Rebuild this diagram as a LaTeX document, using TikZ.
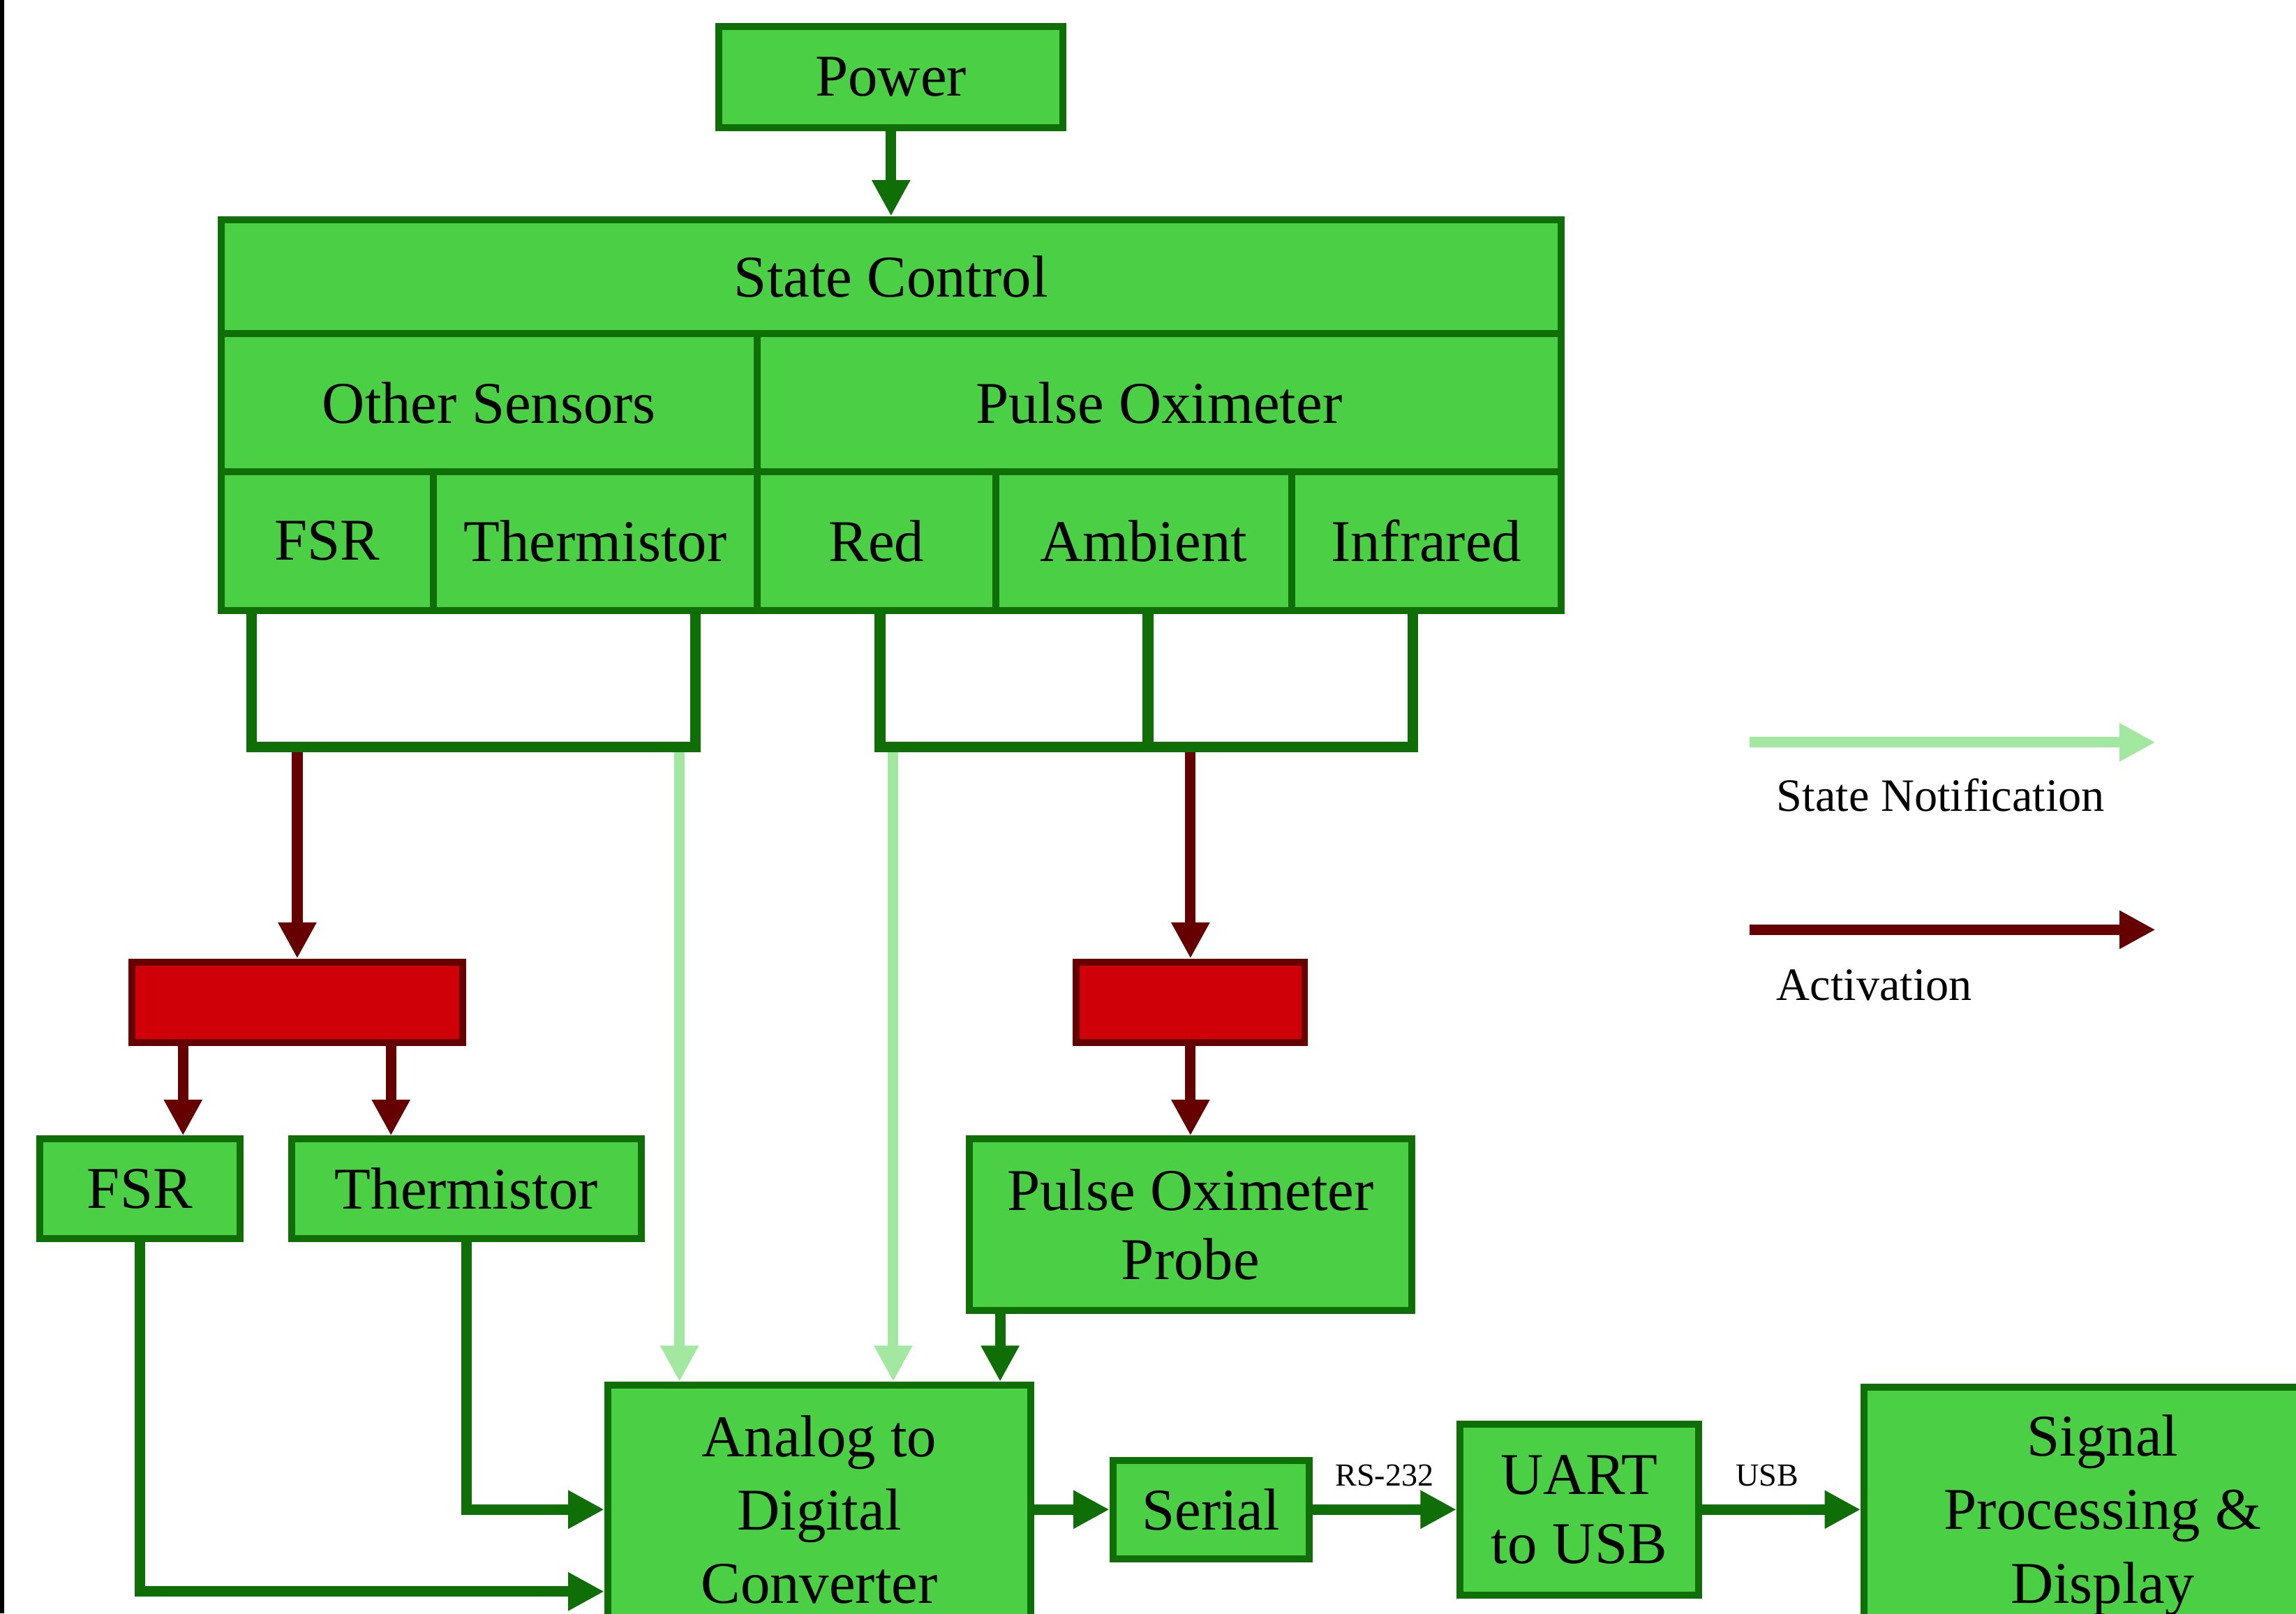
\documentclass[tikz,border=0pt]{standalone}
\usepackage{fontspec}
\setmainfont{Liberation Serif}
\usetikzlibrary{arrows.meta}

\definecolor{boxfill}{RGB}{74,207,69}
\definecolor{boxline}{RGB}{15,110,5}
\definecolor{notegreen}{RGB}{163,232,160}
\definecolor{actline}{RGB}{102,0,0}
\definecolor{gatefill}{RGB}{208,0,8}

\tikzset{
    block/.style={rectangle, draw=boxline, fill=boxfill, line width=2.7pt,
        inner sep=0pt, align=center, font=\fontsize{23}{27}\selectfont},
    gate/.style={rectangle, draw=actline, fill=gatefill, line width=2.7pt},
    link/.style={draw=boxline, line width=4.1pt, -{Triangle[width=14pt,length=14pt]}},
    bus/.style={draw=boxline, line width=4.1pt, line join=miter},
    notify/.style={draw=notegreen, line width=4.1pt, -{Triangle[width=14pt,length=14pt]}},
    activate/.style={draw=actline, line width=4.1pt, -{Triangle[width=14pt,length=14pt]}},
    legend/.style={inner sep=0pt, anchor=west, font=\fontsize{18}{21}\selectfont},
    portlabel/.style={midway, above=7pt, inner sep=0pt, font=\fontsize{12.5}{14}\selectfont}
}

\begin{document}
\begin{tikzpicture}[x=0.02cm, y=-0.02cm]

    \useasboundingbox (0,0) rectangle (1568,1102);
    \clip (0,0) rectangle (1568,1102);
    \fill[black] (0,0) rectangle (3,1102);

    % state control table
    \node[block, minimum width=4.70cm, minimum height=1.38cm] (power) at (608.5,52.5) {Power};
    \node[block, minimum width=18.30cm, minimum height=1.56cm] (sc) at (608.5,189) {State Control};
    \node[block, minimum width=7.32cm, minimum height=1.88cm] (os) at (334,275) {Other Sensors};
    \node[block, minimum width=10.98cm, minimum height=1.88cm] (po) at (791.5,275) {Pulse Oximeter};
    \node[block, minimum width=2.90cm, minimum height=1.90cm] (fsr) at (223.5,369.5) {FSR};
    \node[block, minimum width=4.42cm, minimum height=1.90cm] (therm) at (406.5,369.5) {Thermistor};
    \node[block, minimum width=3.26cm, minimum height=1.90cm] (red) at (598.5,369.5) {Red};
    \node[block, minimum width=4.04cm, minimum height=1.90cm] (amb) at (781,369.5) {Ambient};
    \node[block, minimum width=3.68cm, minimum height=1.90cm] (ir) at (974,369.5) {Infrared};

    % switches
    \node[gate, minimum width=4.52cm, minimum height=1.10cm] (lgate) at (203,684.5) {};
    \node[gate, minimum width=3.12cm, minimum height=1.10cm] (rgate) at (813,684.5) {};

    % sensors
    \node[block, minimum width=2.74cm, minimum height=1.36cm] (fsrprobe) at (95.5,812) {FSR};
    \node[block, minimum width=4.78cm, minimum height=1.36cm] (thermprobe) at (318.5,812) {Thermistor};
    \node[block, minimum width=6.04cm, minimum height=2.34cm] (oxprobe) at (813,836.5) {Pulse Oximeter\\Probe};

    % data path
    \node[block, minimum width=5.78cm, minimum height=3.40cm, font=\fontsize{23}{28.5}\selectfont] (adc) at (559.5,1031) {Analog to\\Digital\\Converter};
    \node[block, minimum width=2.68cm, minimum height=1.34cm] (serial) at (827,1031) {Serial};
    \node[block, minimum width=3.26cm, minimum height=2.34cm] (uart) at (1078.5,1031) {UART\\to USB};
    \node[block, minimum width=6.52cm, minimum height=3.50cm, font=\fontsize{23}{28.5}\selectfont] (dsp) at (1436,1035) {Signal\\Processing \&\\Display};

    \draw[link] (power) -- (sc);

    \coordinate (lbus) at (203,510);
    \coordinate (rbus) at (813,510);
    \draw[activate] (lbus) -- (lgate);
    \draw[activate] (rbus) -- (rgate);
    \draw[activate] (125,0 |- lgate.south) -- (125,0 |- fsrprobe.north);
    \draw[activate] (267,0 |- lgate.south) -- (267,0 |- thermprobe.north);
    \draw[activate] (rgate) -- (oxprobe);

    \draw[notify] (464,510) -- (464,0 |- adc.north);
    \draw[notify] (610,510) -- (610,0 |- adc.north);

    \draw[bus] (172,0 |- fsr.south) -- (172,510) -- (475,510) -- (475,0 |- therm.south);
    \draw[bus] (601,0 |- red.south) -- (601,510) -- (965,510) -- (965,0 |- ir.south);
    \draw[bus] (784,0 |- amb.south) -- (784,510);

    \draw[link] (683,0 |- oxprobe.south) -- (683,0 |- adc.north);
    \draw[link] (thermprobe.south) |- (adc.west);
    \draw[link] (fsrprobe.south) |- (adc.west |- 0,1087);
    \draw[link] (adc) -- (serial);
    \draw[link] (serial) -- node[portlabel] {RS-232} (uart);
    \draw[link] (uart) -- node[portlabel, xshift=-5.5pt] {USB} (uart -| dsp.west);

    % legend
    \coordinate (nA) at (1195,507);
    \coordinate (nB) at (1472,507);
    \coordinate (aA) at (1195,635);
    \coordinate (aB) at (1472,635);
    \draw[notify] (nA) -- (nB);
    \draw[activate] (aA) -- (aB);
    \node[legend] (nlabel) at (1213,543) {State Notification};
    \node[legend] (alabel) at (1213,673) {Activation};

\end{tikzpicture}
\end{document}
